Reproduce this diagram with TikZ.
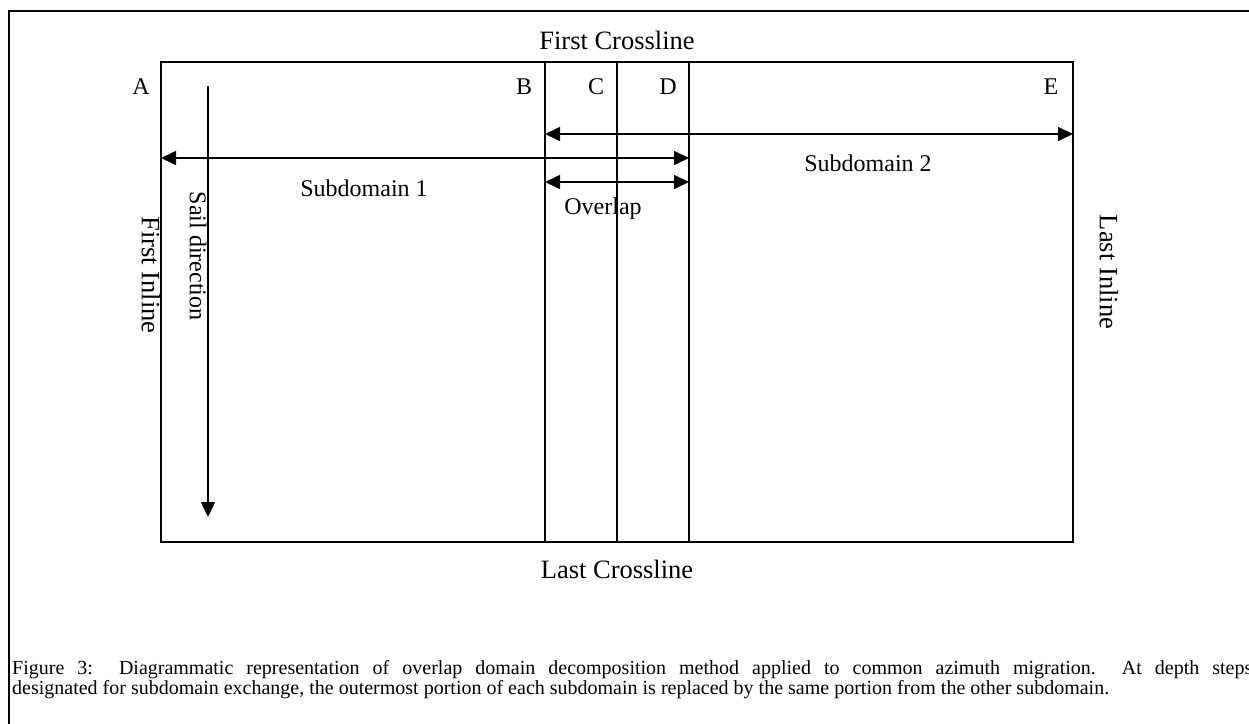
\documentclass[tikz,border=0pt]{standalone}
\usepackage{fontspec}
\setmainfont{Liberation Serif}
\usetikzlibrary{arrows.meta}
\begin{document}
\begin{tikzpicture}[x=1pt,y=-1pt,
  lbl/.style={font=\fontsize{24}{28}\selectfont, inner sep=0pt},
  axis/.style={font=\fontsize{26.5}{30}\selectfont, inner sep=0pt},
  box/.style={line width=1.6pt},
  tip/.tip={Triangle[length=15pt,width=14pt]},
  dimarrow/.style={line width=1.6pt, tip-tip},
  onearrow/.style={line width=1.6pt, -tip},
  frame/.style={line width=2.2pt}
]
\useasboundingbox (0,0) rectangle (1249,723);
\fill[white] (0,0) rectangle (1249,723);
% outer frame (only its top and left edges fall inside the picture)
\coordinate (fbl) at (9,760);
\coordinate (ftl) at (9,11);
\coordinate (ftr) at (1300,11);
\draw[frame] (fbl) -- (ftl) -- (ftr);
% domain rectangle and dividing lines
\coordinate (tl) at (161,62);
\coordinate (br) at (1073,542);
\draw[box] (tl) rectangle (br);
\coordinate (bt) at (545,62);  \coordinate (bb) at (545,542);
\coordinate (ct) at (617,62);  \coordinate (cb) at (617,542);
\coordinate (dt) at (689,62);  \coordinate (db) at (689,542);
\draw[box] (bt) -- (bb);
\draw[box] (ct) -- (cb);
\draw[box] (dt) -- (db);
% arrows
\coordinate (s2l) at (545,134); \coordinate (s2r) at (1073,134);
\coordinate (s1l) at (161,158); \coordinate (s1r) at (689,158);
\coordinate (ovl) at (545,182); \coordinate (ovr) at (689,182);
\coordinate (sailtop) at (208,86); \coordinate (sailbot) at (208,517);
\draw[dimarrow] (s2l) -- (s2r);
\draw[dimarrow] (s1l) -- (s1r);
\draw[dimarrow] (ovl) -- (ovr);
\draw[onearrow] (sailtop) -- (sailbot);
% labels
\node[axis] (fc) at (617,40) {First Crossline};
\node[axis] (lc) at (617,569) {Last Crossline};
\node[lbl] (A) at (141,87) {A};
\node[lbl] (B) at (524,87) {B};
\node[lbl] (C) at (596,87) {C};
\node[lbl] (D) at (668,87) {D};
\node[lbl] (E) at (1051,87) {E};
\node[lbl] (sd1) at (364,188) {Subdomain 1};
\node[lbl] (sd2) at (868,163) {Subdomain 2};
\node[lbl, anchor=base] (ov) at (603,214) {Overlap};
\node[axis, rotate=-90] (fi) at (151,275) {First Inline};
\node[axis, rotate=-90] (li) at (1109,272) {Last Inline};
\node[lbl, rotate=-90] (sail) at (198,256) {Sail direction};
% caption
\node[anchor=north west, inner sep=0pt, text width=1240pt, align=justify,
      font=\fontsize{20}{20}\selectfont] (cap) at (12,660)
  {\frenchspacing\hyphenpenalty=10000 \tolerance=10000 \hbadness=10000
   Figure 3:\ \ Diagrammatic representation of overlap domain decomposition method applied to common azimuth migration.\ \ At depth steps\linebreak
   designated for subdomain exchange, the outermost portion of each subdomain is replaced by the same portion from the other subdomain.};
\end{tikzpicture}
\end{document}
